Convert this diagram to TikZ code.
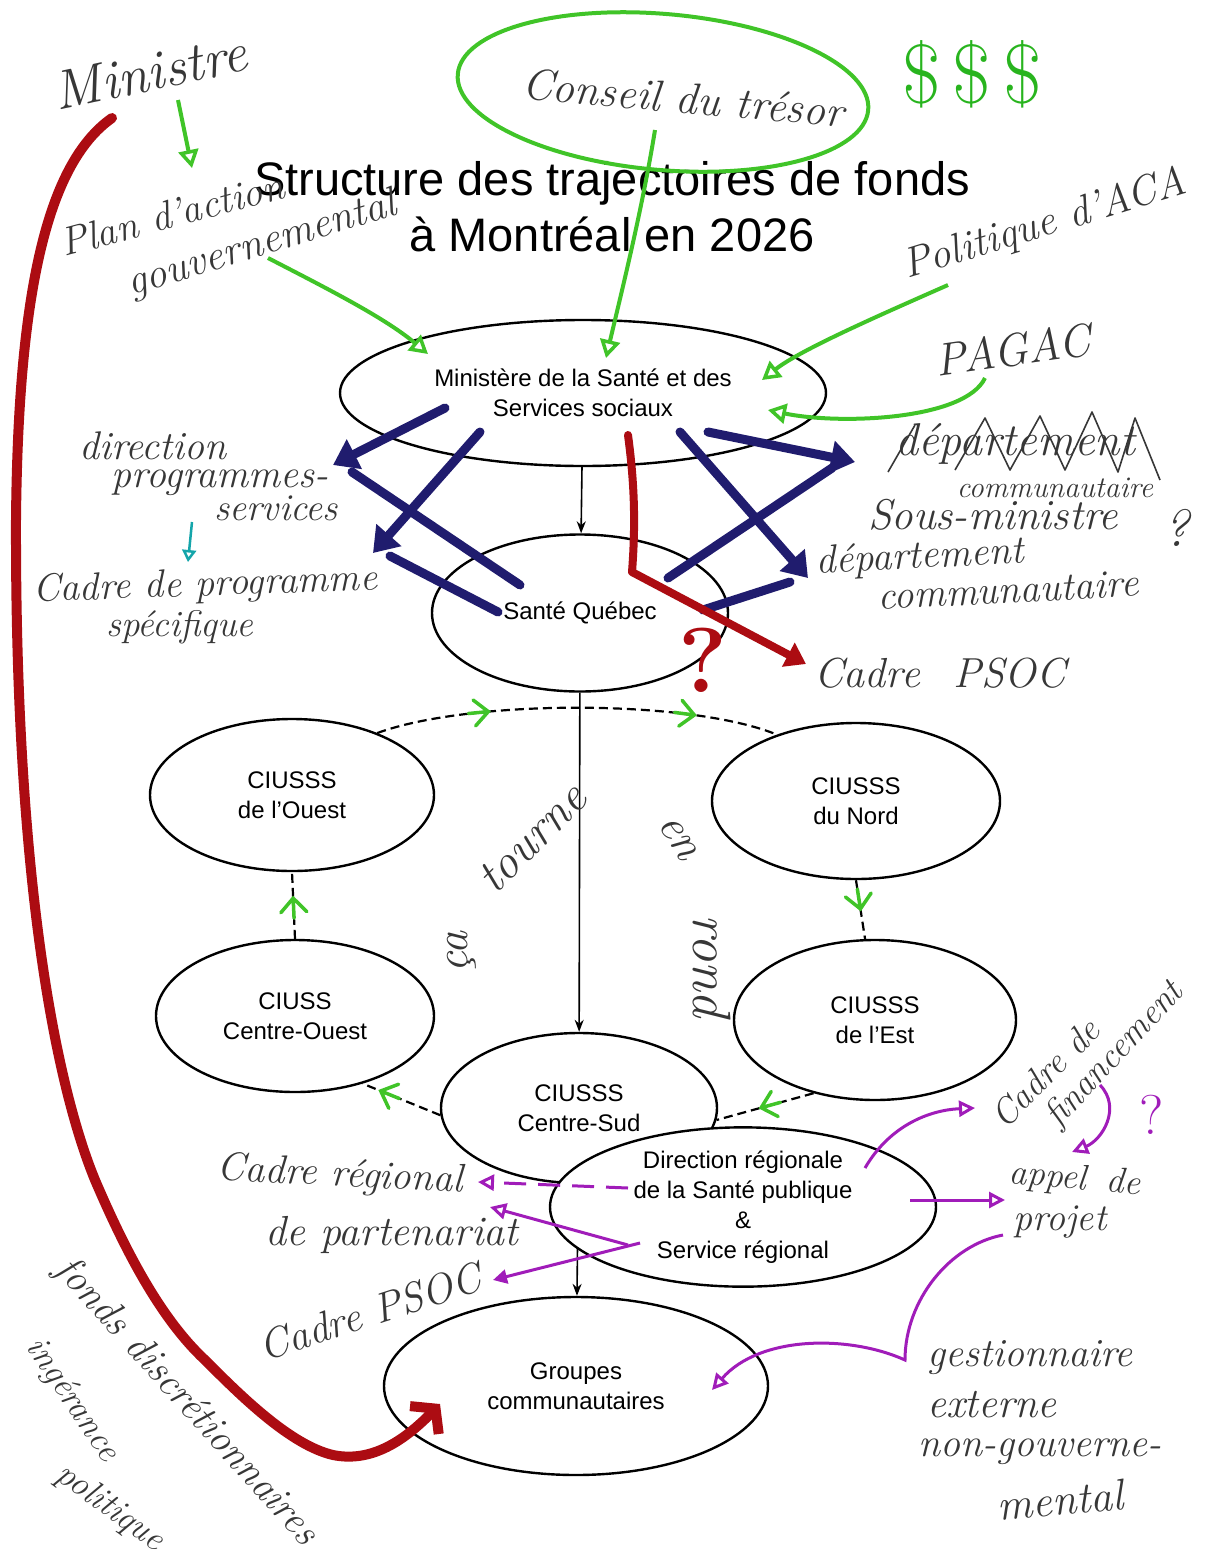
\documentclass[tikz,border=0pt]{standalone}
\usepackage{fontspec}
\newfontfamily\typed{Liberation Sans}
\usetikzlibrary{shapes.geometric,arrows.meta,decorations.markings,backgrounds}
\definecolor{hgreen}{RGB}{64,196,40}
\definecolor{dgreen}{RGB}{40,180,30}
\definecolor{navy}{RGB}{32,28,110}
\definecolor{hred}{RGB}{172,12,18}
\definecolor{hpurple}{RGB}{160,28,185}
\definecolor{hteal}{RGB}{20,165,170}
\definecolor{pencil}{RGB}{55,55,55}
\newcommand\hwfont[1]{\fontsize{#1}{#1}\selectfont\itshape}
\newcommand\chevmark{\draw[hgreen, line width=3.5pt, solid, line cap=round] (-10pt,13pt) -- (4pt,0pt) -- (-10pt,-13pt) (4pt,0pt) -- (-16pt,0pt);}
\begin{document}
\begin{tikzpicture}[x=1pt,y=-1pt,
  box/.style={draw, ellipse, line width=2.4pt, fill=white, align=center, inner sep=0pt, font=\typed\fontsize{24}{30}\selectfont},
  ring/.style={line width=2.2pt, dash pattern=on 9pt off 5pt},
  conn/.style={line width=1.6pt, -{Stealth[length=12pt,width=9pt]}},
  hw/.style={text=pencil, inner sep=0pt},
  garrow/.style={hgreen, line width=4pt, -{Triangle[open, length=18pt, width=20pt, line width=3.5pt]}},
  narrow/.style={navy, line width=9pt, line cap=round, -{Triangle[length=24pt, width=32pt]}},
  nline/.style={navy, line width=9pt, line cap=round},
  parrow/.style={hpurple, line width=3pt, -{Triangle[open, length=16pt, width=16pt, line width=3pt]}},
]
\useasboundingbox (0,0) rectangle (1210,1556);

% title
\node[font=\typed\fontsize{47}{56}\selectfont, align=center, inner sep=0pt] (title) at (612,207) {Structure des trajectoires de fonds\\à Montréal en 2026};

% main nodes
\node[box, minimum width=486pt, minimum height=146pt] (msss) at (583,393) {Ministère de la Santé et des\\Services sociaux};
\node[box, minimum width=296pt, minimum height=157pt] (sq) at (580,613) {Santé Québec};
\node[box, minimum width=284pt, minimum height=152pt] (ouest) at (292,795) {CIUSSS\\de l’Ouest};
\node[box, minimum width=288pt, minimum height=156pt] (nord) at (856,801) {CIUSSS\\du Nord};
\node[box, minimum width=278pt, minimum height=152pt] (cwest) at (295,1016) {CIUSS\\Centre-Ouest};
\node[box, minimum width=282pt, minimum height=160pt] (est) at (875,1020) {CIUSSS\\de l’Est};
\node[box, minimum width=276pt, minimum height=150pt] (csud) at (579,1108) {CIUSSS\\Centre-Sud};
\node[box, minimum width=386pt, minimum height=156pt] (dr) at (743,1207) {Direction régionale\\de la Santé publique\\\&\\Service régional};
\node[box, minimum width=384pt, minimum height=178pt] (grp) at (576,1386) {Groupes\\communautaires};

\begin{pgfonlayer}{background}
\draw[conn] (msss) -- (sq);
\draw[conn] (sq) -- (csud);
\draw[conn] (csud) -- (grp);
\draw[ring, decoration={markings, mark=at position 0.27 with {\chevmark}, mark=at position 0.78 with {\chevmark}}, postaction=decorate]
  (ouest.36) .. controls (470,699) and (690,699) .. (nord.140);
\draw[ring, decoration={markings, mark=at position 0.42 with {\chevmark}}, postaction=decorate] (nord.south) -- (est.97);
\draw[ring, decoration={markings, mark=at position 0.5 with {\chevmark}}, postaction=decorate] (est.230) -- (csud.355);
\draw[ring, decoration={markings, mark=at position 0.72 with {\chevmark}}, postaction=decorate] (csud.183) -- (cwest.-45);
\draw[ring, decoration={markings, mark=at position 0.55 with {\chevmark}}, postaction=decorate] (cwest.north) -- (ouest.south);
\end{pgfonlayer}

% ---------- green annotations
\node[hw, font=\hwfont{55}, rotate=12] (ministre) at (150,72) {Ministre};
\coordinate (g1a) at (178,100); \coordinate (g1b) at (192,168);
\draw[garrow] (g1a) -- (g1b);
\node[hw, font=\hwfont{40}, rotate=15] (plan) at (172,214) {Plan d’action};
\node[hw, font=\hwfont{42}, rotate=17] (gouv) at (262,245) {gouvernemental};
\coordinate (g2a) at (268,258); \coordinate (g2b) at (428,354);
\draw[garrow] (g2a) .. controls (330,290) and (385,318) .. (g2b);

\draw[hgreen, line width=4pt, rotate around={-5:(663,92)}] (663,92) ellipse [x radius=206pt, y radius=78pt];
\node[hw, font=\hwfont{44}, rotate=-5] (conseil) at (683,98) {Conseil du trésor};
\node[text=dgreen, inner sep=0pt, font=\fontsize{84}{84}\selectfont] (dollars) at (972,74) {\$\hspace{12pt}\$\hspace{12pt}\$};
\coordinate (g3a) at (655,130); \coordinate (g3b) at (606,358);
\draw[garrow] (g3a) .. controls (642,210) and (622,290) .. (g3b);

\node[hw, font=\hwfont{42}, rotate=17] (aca) at (1045,225) {Politique d’ACA};
\coordinate (g4a) at (948,285); \coordinate (g4b) at (762,380);
\draw[garrow] (g4a) .. controls (880,315) and (800,350) .. (g4b);
\node[hw, font=\hwfont{46}, rotate=8] (pagac) at (1013,350) {PAGAC};
\coordinate (g5a) at (985,378); \coordinate (g5b) at (768,410);
\draw[garrow] (g5a) .. controls (965,420) and (840,425) .. (g5b);

% ---------- navy crossing arrows
\coordinate (m1) at (445,408); \coordinate (dps) at (333,465);
\coordinate (s1) at (520,585); \coordinate (s1e) at (352,472);
\coordinate (m2) at (480,432); \coordinate (cps) at (373,553);
\coordinate (s2) at (498,612); \coordinate (s2e) at (390,556);
\coordinate (m3) at (708,432); \coordinate (dcs) at (855,462);
\coordinate (s3) at (668,578); \coordinate (s3e) at (832,468);
\coordinate (m4) at (680,432); \coordinate (dc) at (808,578);
\coordinate (s4) at (703,610); \coordinate (s4e) at (790,582);
\draw[nline] (s1) -- (s1e);
\draw[nline] (s2) -- (s2e);
\draw[nline] (s3) -- (s3e);
\draw[nline] (s4) -- (s4e);
\draw[narrow] (m1) -- (dps);
\draw[narrow] (m2) -- (cps);
\draw[narrow] (m3) -- (dcs);
\draw[narrow] (m4) -- (dc);

% ---------- left labels
\node[hw, font=\hwfont{40}] (dir) at (153,446) {direction};
\node[hw, font=\hwfont{40}] (prog) at (220,483) {programmes-};
\node[hw, font=\hwfont{38}] (serv) at (276,508) {services};
\coordinate (t1) at (192,522); \coordinate (t2) at (188,562);
\draw[hteal, line width=2.5pt, -{Triangle[open, length=12pt, width=14pt, line width=2.5pt]}] (t1) -- (t2);
\node[hw, font=\hwfont{39}, rotate=2] (cadreprog) at (205,586) {Cadre de programme};
\node[hw, font=\hwfont{37}] (spec) at (180,627) {spécifique};

% ---------- right labels
\node[hw, font=\hwfont{46}] (deptx) at (1015,444) {département};
\node[hw, font=\hwfont{30}] (commx) at (1055,488) {communautaire};
\draw[pencil, line width=1.6pt, line join=round] (888,472) -- (915,425) (955,470) -- (985,418) -- (1010,470) -- (1040,416) -- (1065,470) -- (1092,412) -- (1118,472) -- (1135,418) -- (1160,480);
\node[hw, font=\hwfont{43}] (sousmin) at (993,515) {Sous-ministre};
\node[hw, font=\hwfont{52}] (q1) at (1176,528) {?};
\node[hw, font=\hwfont{40}, rotate=3] (dept) at (920,558) {département};
\node[hw, font=\hwfont{40}, rotate=3] (comm) at (1008,590) {communautaire};
\node[hw, font=\hwfont{42}] (cpsoc1) at (940,673) {Cadre\hspace{34pt}PSOC};

% ---------- red
\coordinate (r1) at (628,435); \coordinate (r2) at (806,664);
\draw[hred, line width=8pt, line join=round, line cap=round, -{Triangle[length=20pt, width=26pt]}] (r1) .. controls (634,480) and (636,520) .. (632,572) -- (r2);
\node[text=hred, inner sep=0pt, font=\fontsize{92}{92}\selectfont\bfseries] (q2) at (703,660) {?};
\coordinate (rb1) at (112,118); \coordinate (rb2) at (440,1404);
\draw[hred, line width=10pt, line cap=round, -{Straight Barb[length=16pt, width=40pt]}] (rb1) .. controls (45,165) and (18,300) .. (16,520) .. controls (15,900) and (60,1095) .. (95,1180) .. controls (125,1250) and (160,1318) .. (205,1360) .. controls (240,1395) and (290,1445) .. (333,1455) .. controls (372,1463) and (405,1440) .. (rb2);

% ---------- ring text
\node[hw, font=\hwfont{46}, rotate=90] (ca) at (462,952) {ça};
\node[hw, font=\hwfont{48}, rotate=45] (tourne) at (532,838) {tourne};
\node[hw, font=\hwfont{46}, rotate=-60] (en) at (678,838) {en};
\node[hw, font=\hwfont{54}, rotate=-90] (rond) at (712,966) {rond};

% ---------- purple
\coordinate (p1a) at (628,1188); \coordinate (p1b) at (478,1182);
\draw[parrow, dash pattern=on 22pt off 12pt] (p1a) -- (p1b);
\coordinate (p2a) at (628,1245); \coordinate (p2b) at (490,1207);
\draw[parrow] (p2a) -- (p2b);
\coordinate (p3a) at (640,1243); \coordinate (p3b) at (493,1280);
\draw[hpurple, line width=3pt, -{Triangle[length=14pt, width=14pt]}] (p3a) -- (p3b);
\coordinate (p4a) at (865,1168); \coordinate (p4b) at (975,1108);
\draw[parrow] (p4a) .. controls (890,1125) and (930,1110) .. (p4b);
\coordinate (p5a) at (910,1200); \coordinate (p5b) at (1005,1200);
\draw[parrow] (p5a) -- (p5b);
\coordinate (p6a) at (1100,1085); \coordinate (p6b) at (1072,1152);
\draw[parrow] (p6a) .. controls (1122,1108) and (1102,1140) .. (p6b);
\coordinate (p7a) at (1003,1235); \coordinate (p7c) at (905,1360); \coordinate (p7b) at (712,1390);
\draw[parrow] (p7a) .. controls (950,1245) and (905,1300) .. (p7c) .. controls (850,1335) and (760,1335) .. (p7b);
\node[text=hpurple, inner sep=0pt, font=\fontsize{56}{56}\selectfont] (q3) at (1152,1115) {?};

% ---------- lower labels
\node[hw, font=\hwfont{36}, rotate=45] (cadrede) at (1045,1073) {Cadre de};
\node[hw, font=\hwfont{36}, rotate=47] (financ) at (1115,1055) {financement};
\node[hw, font=\hwfont{36}, rotate=-5] (appel) at (1075,1180) {appel\hspace{20pt}de};
\node[hw, font=\hwfont{38}] (projet) at (1060,1222) {projet};
\node[hw, font=\hwfont{40}] (gest) at (1030,1358) {gestionnaire};
\node[hw, font=\hwfont{42}] (ext) at (992,1405) {externe};
\node[hw, font=\hwfont{40}] (nongouv) at (1040,1452) {non-gouverne-};
\node[hw, font=\hwfont{44}, rotate=5] (mental) at (1060,1500) {mental};
\node[hw, font=\hwfont{40}, rotate=-3] (cadrereg) at (340,1176) {Cadre régional};
\node[hw, font=\hwfont{42}] (partenariat) at (392,1235) {de partenariat};
\node[hw, font=\hwfont{42}, rotate=18] (cpsoc2) at (370,1312) {Cadre PSOC};
\node[hw, font=\hwfont{40}, rotate=-48] (fonds) at (186,1402) {fonds discrétionnaires};
\node[hw, font=\hwfont{35}, rotate=-56] (ing) at (72,1400) {ingérance};
\node[hw, font=\hwfont{35}, rotate=-36] (pol) at (110,1508) {politique};
\end{tikzpicture}
\end{document}
